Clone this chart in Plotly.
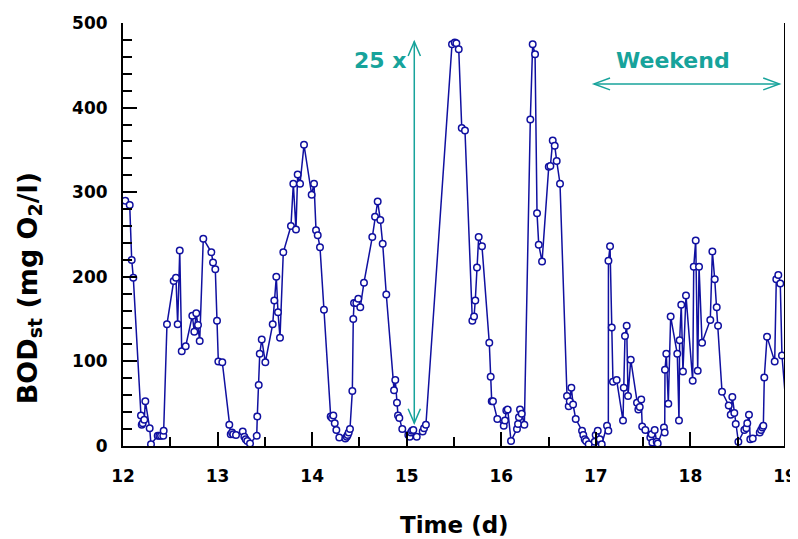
import plotly.graph_objects as go

# Time in days, BOD_st in mg O2/l
time_d = [12.024,12.071,12.092,12.109,12.190,12.198,12.208,12.225,12.236,12.282,
          12.296,12.367,12.384,12.402,12.426,12.430,12.465,12.536,12.560,12.578,
          12.600,12.621,12.663,12.733,12.754,12.775,12.793,12.811,12.849,12.934,
          12.952,12.976,12.994,13.008,13.050,13.124,13.139,13.153,13.166,13.195,
          13.266,13.283,13.297,13.314,13.343,13.414,13.420,13.435,13.446,13.467,
          13.505,13.583,13.600,13.621,13.639,13.660,13.695,13.776,13.801,13.829,
          13.847,13.872,13.914,13.995,14.020,14.041,14.059,14.083,14.125,14.196,
          14.210,14.224,14.239,14.256,14.287,14.351,14.366,14.376,14.387,14.400,
          14.425,14.435,14.443,14.467,14.488,14.509,14.548,14.636,14.665,14.693,
          14.721,14.746,14.784,14.866,14.879,14.897,14.908,14.922,14.953,15.017,
          15.032,15.045,15.056,15.070,15.106,15.169,15.183,15.203,15.479,15.508,
          15.525,15.550,15.582,15.616,15.694,15.712,15.725,15.743,15.761,15.796,
          15.873,15.888,15.899,15.912,15.958,16.026,16.039,16.053,16.068,16.103,
          16.166,16.177,16.187,16.198,16.216,16.244,16.307,16.332,16.357,16.378,
          16.396,16.431,16.502,16.519,16.544,16.565,16.586,16.621,16.695,16.713,
          16.724,16.741,16.759,16.787,16.854,16.867,16.882,16.896,16.924,16.988,
          16.998,17.020,17.041,17.062,17.118,17.132,17.133,17.150,17.168,17.181,
          17.220,17.287,17.295,17.308,17.326,17.340,17.369,17.435,17.449,17.464,
          17.480,17.490,17.523,17.576,17.590,17.597,17.622,17.643,17.654,17.720,
          17.728,17.731,17.745,17.766,17.791,17.861,17.879,17.886,17.903,17.921,
          17.953,18.024,18.035,18.056,18.077,18.091,18.123,18.210,18.232,18.257,
          18.278,18.292,18.334,18.405,18.426,18.443,18.464,18.479,18.507,18.570,
          18.591,18.601,18.619,18.633,18.659,18.733,18.747,18.761,18.771,18.781,
          18.810,18.891,18.908,18.929,18.950,18.968,19.035]

bod_st = [290,285,220,199,36,25,27,31,53,21,
          2,12,12,12,12,18,144,195,199,144,
          231,112,118,154,135,157,143,124,245,229,
          217,209,148,100,99,25,14,16,14,13,
          17,11,8,6,3,12,35,72,109,126,
          99,144,172,200,158,128,229,260,310,256,
          321,310,356,297,310,255,249,235,161,35,
          33,36,27,19,10,9,11,13,16,20,
          65,150,169,169,174,164,193,247,271,289,
          267,239,179,66,78,51,36,33,20,13,
          11,16,18,19,11,17,21,25,475,477,
          476,469,376,373,148,153,172,211,247,236,
          122,82,53,53,32,24,30,42,43,6,
          20,26,34,43,38,25,386,475,463,275,
          238,218,330,331,361,355,337,310,59,47,
          53,69,49,32,18,13,8,6,2,5,
          13,18,8,2,24,18,219,236,140,76,
          78,30,69,130,142,59,102,51,43,46,
          55,23,19,10,14,4,19,5,3,22,
          16,90,109,50,153,109,30,125,167,88,
          178,77,212,243,89,212,122,149,230,197,
          164,142,64,48,37,58,39,26,5,19,
          21,27,37,8,9,16,19,22,24,81,
          129,100,197,202,192,107,15]

x_ticks = [12, 13, 14, 15, 16, 17, 18, 19]
y_ticks = [0, 100, 200, 300, 400, 500]

# annotation positions (data units)
range_arrow_x = 15.08
range_arrow_y = [27, 478]
weekend_arrow_x = [16.98, 18.94]
weekend_arrow_y = 428

LINE = "#1010a0"
TEAL = "#17a39b"
FONT = "DejaVu Sans"

fig = go.Figure()
fig.add_trace(go.Scatter(
    x=time_d, y=bod_st, mode="lines+markers",
    line=dict(color=LINE, width=1.5),
    marker=dict(symbol="circle", size=6.5, color="white",
                line=dict(color=LINE, width=1.5)),
    showlegend=False,
))

axis_common = dict(
    showgrid=False, zeroline=False, showline=True, linecolor="black", linewidth=2,
    ticks="inside", ticklen=14, tickwidth=1.5, tickcolor="black", automargin=False,
    tickfont=dict(family=FONT, size=17, color="black", weight="bold"),
)

fig.update_xaxes(range=[12, 19], tickvals=x_ticks, ticktext=[str(v) for v in x_ticks],
                 minor=dict(dtick=0.5, tick0=12, ticks="inside", ticklen=9,
                            tickwidth=1.5, tickcolor="black"),
                 ticklabelstandoff=14,
                 **axis_common)
fig.update_yaxes(range=[0, 500], tickvals=y_ticks, ticktext=[str(v) for v in y_ticks],
                 minor=dict(dtick=20, tick0=0, ticks="inside", ticklen=9,
                            tickwidth=1.5, tickcolor="black"),
                 ticklabelstandoff=10,
                 **axis_common)

# right frame line
fig.add_shape(type="line", xref="x", yref="paper", x0=19, x1=19, y0=0, y1=1,
              line=dict(color="black", width=2))

# vertical 25x arrow
ax = range_arrow_x
y0, y1 = range_arrow_y
dx, dy = 0.065, 17
fig.add_shape(type="line", xref="x", yref="y", x0=ax, x1=ax, y0=y0, y1=y1,
              line=dict(color=TEAL, width=1.5))
fig.add_shape(type="path", xref="x", yref="y",
              path=f"M {ax-dx},{y1-dy} L {ax},{y1} L {ax+dx},{y1-dy}",
              line=dict(color=TEAL, width=1.5))
fig.add_shape(type="path", xref="x", yref="y",
              path=f"M {ax-dx},{y0+dy} L {ax},{y0} L {ax+dx},{y0+dy}",
              line=dict(color=TEAL, width=1.5))

# weekend arrow
wx0, wx1 = weekend_arrow_x
wy = weekend_arrow_y
hdx, hdy = 0.17, 7
fig.add_shape(type="line", xref="x", yref="y", x0=wx0, x1=wx1, y0=wy, y1=wy,
              line=dict(color=TEAL, width=1.5))
fig.add_shape(type="path", xref="x", yref="y",
              path=f"M {wx0+hdx},{wy+hdy} L {wx0},{wy} L {wx0+hdx},{wy-hdy}",
              line=dict(color=TEAL, width=1.5))
fig.add_shape(type="path", xref="x", yref="y",
              path=f"M {wx1-hdx},{wy+hdy} L {wx1},{wy} L {wx1-hdx},{wy-hdy}",
              line=dict(color=TEAL, width=1.5))

fig.add_annotation(x=14.72, y=456, xref="x", yref="y", text="25 x", showarrow=False,
                   font=dict(family=FONT, size=22, color=TEAL, weight="bold"))
fig.add_annotation(x=17.82, y=456, xref="x", yref="y", text="Weekend", showarrow=False,
                   font=dict(family=FONT, size=22, color=TEAL, weight="bold"))

# axis titles
fig.add_annotation(x=0.5, y=-0.187, xref="paper", yref="paper", text="Time (d)",
                   showarrow=False, yanchor="middle",
                   font=dict(family=FONT, size=23, color="black", weight="bold"))
fig.add_annotation(x=-0.142, y=0.373, xref="paper", yref="paper",
                   text="BOD<sub>st</sub> (mg O<sub>2</sub>/l)", textangle=-90,
                   showarrow=False, xanchor="center", yanchor="middle",
                   font=dict(family=FONT, size=27, color="black", weight="bold"))

# the page body adds an 8px offset; size the figure so the plot area lands in place
fig.update_layout(
    width=798, height=531,
    margin=dict(l=115, r=21, t=15, b=93),
    paper_bgcolor="white", plot_bgcolor="white",
)

fig.write_html("out.html")
